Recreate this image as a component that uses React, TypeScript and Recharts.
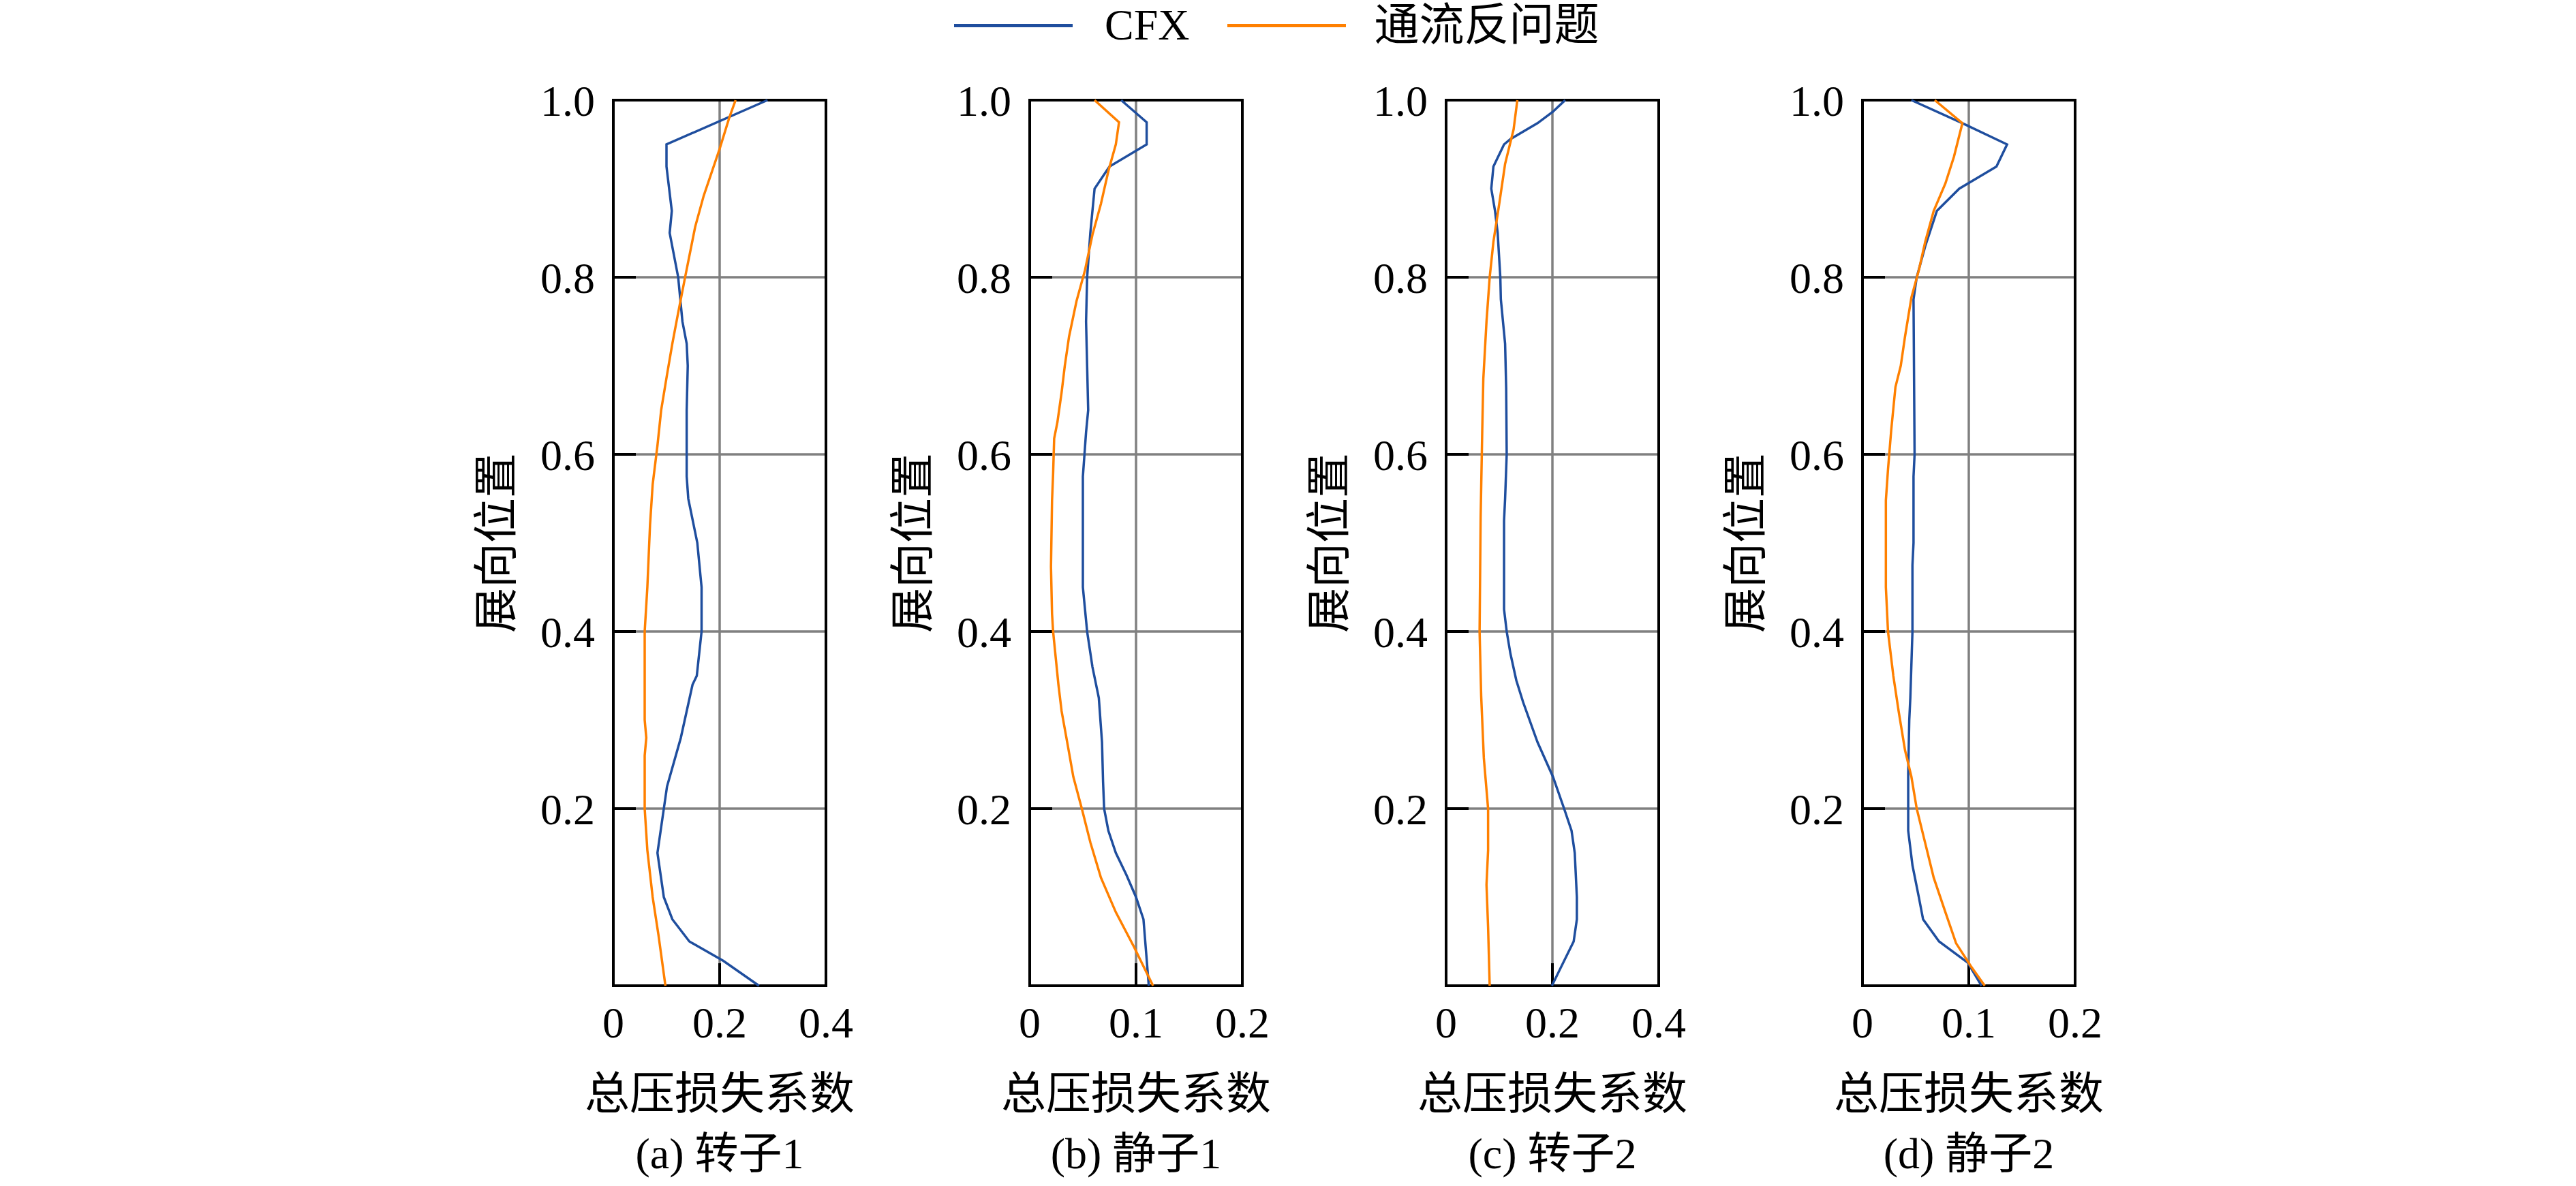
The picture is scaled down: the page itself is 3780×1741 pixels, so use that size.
import React from 'react';
import { ScatterChart, Scatter, XAxis, YAxis, CartesianGrid, ReferenceArea } from 'recharts';

// [span position, total pressure loss coefficient]
const rotor1Cfx: [number, number][] = [
  [1.0, 0.29], [0.95, 0.1], [0.925, 0.1], [0.875, 0.11], [0.85, 0.106], [0.8, 0.122],
  [0.75, 0.13], [0.725, 0.138], [0.7, 0.14], [0.65, 0.138], [0.575, 0.138], [0.55, 0.141],
  [0.5, 0.158], [0.45, 0.166], [0.4, 0.166], [0.35, 0.157], [0.34, 0.149], [0.28, 0.127],
  [0.225, 0.101], [0.15, 0.083], [0.1, 0.095], [0.075, 0.111], [0.05, 0.143], [0.028, 0.207],
  [0, 0.274],
];
const rotor1Inverse: [number, number][] = [
  [1.0, 0.23], [0.98, 0.218], [0.945, 0.2], [0.892, 0.17], [0.857, 0.154], [0.8, 0.135],
  [0.76, 0.122], [0.725, 0.111], [0.69, 0.101], [0.65, 0.09], [0.61, 0.083], [0.566, 0.074],
  [0.52, 0.069], [0.45, 0.064], [0.4, 0.059], [0.3, 0.059], [0.28, 0.062], [0.26, 0.059],
  [0.2, 0.059], [0.153, 0.064], [0.1, 0.074], [0.057, 0.085], [0, 0.098],
];
const stator1Cfx: [number, number][] = [
  [1.0, 0.086], [0.975, 0.11], [0.95, 0.11], [0.925, 0.075], [0.9, 0.061], [0.85, 0.057],
  [0.8, 0.054], [0.75, 0.053], [0.7, 0.054], [0.65, 0.055], [0.625, 0.053], [0.575, 0.05],
  [0.5, 0.05], [0.45, 0.05], [0.425, 0.052], [0.4, 0.054], [0.36, 0.059], [0.325, 0.065],
  [0.275, 0.068], [0.23, 0.069], [0.2, 0.07], [0.175, 0.074], [0.15, 0.081], [0.125, 0.091],
  [0.1, 0.1], [0.075, 0.107], [0, 0.112],
];
const stator1Inverse: [number, number][] = [
  [1.0, 0.061], [0.975, 0.084], [0.95, 0.081], [0.92, 0.074], [0.883, 0.067], [0.848, 0.059],
  [0.808, 0.052], [0.773, 0.044], [0.733, 0.037], [0.7, 0.033], [0.67, 0.03], [0.636, 0.026],
  [0.618, 0.023], [0.578, 0.022], [0.548, 0.021], [0.473, 0.02], [0.42, 0.021], [0.4, 0.022],
  [0.34, 0.027], [0.31, 0.03], [0.27, 0.036], [0.236, 0.041], [0.2, 0.049], [0.162, 0.057],
  [0.122, 0.067], [0.083, 0.081], [0.044, 0.098], [0.022, 0.107], [0, 0.116],
];
const rotor2Cfx: [number, number][] = [
  [1.0, 0.224], [0.987, 0.201], [0.974, 0.172], [0.956, 0.121], [0.95, 0.109], [0.925, 0.089],
  [0.9, 0.085], [0.875, 0.092], [0.85, 0.097], [0.8, 0.102], [0.775, 0.103], [0.725, 0.111],
  [0.675, 0.113], [0.6, 0.114], [0.55, 0.111], [0.525, 0.109], [0.425, 0.109], [0.4, 0.114],
  [0.375, 0.121], [0.345, 0.132], [0.32, 0.145], [0.275, 0.172], [0.236, 0.201], [0.2, 0.222],
  [0.175, 0.236], [0.15, 0.242], [0.1, 0.246], [0.075, 0.246], [0.05, 0.24], [0, 0.199],
];
const rotor2Inverse: [number, number][] = [
  [1.0, 0.134], [0.967, 0.127], [0.928, 0.111], [0.883, 0.1], [0.84, 0.089], [0.8, 0.082],
  [0.75, 0.076], [0.685, 0.07], [0.627, 0.068], [0.53, 0.065], [0.4, 0.063], [0.327, 0.066],
  [0.257, 0.071], [0.2, 0.079], [0.153, 0.079], [0.114, 0.076], [0.066, 0.079], [0, 0.082],
];
const stator2Cfx: [number, number][] = [
  [1.0, 0.046], [0.974, 0.094], [0.95, 0.136], [0.925, 0.126], [0.9, 0.091], [0.875, 0.07],
  [0.835, 0.059], [0.8, 0.051], [0.775, 0.048], [0.6, 0.049], [0.575, 0.048], [0.5, 0.048],
  [0.475, 0.047], [0.4, 0.047], [0.325, 0.045], [0.3, 0.044], [0.24, 0.043], [0.175, 0.043],
  [0.136, 0.047], [0.1, 0.053], [0.075, 0.057], [0.05, 0.072], [0.026, 0.099], [0, 0.112],
];
const stator2Inverse: [number, number][] = [
  [1.0, 0.068], [0.974, 0.094], [0.936, 0.086], [0.906, 0.078], [0.875, 0.067], [0.84, 0.059],
  [0.808, 0.053], [0.777, 0.046], [0.733, 0.04], [0.7, 0.036], [0.676, 0.031], [0.627, 0.027],
  [0.583, 0.024], [0.548, 0.022], [0.45, 0.022], [0.4, 0.024], [0.35, 0.029], [0.31, 0.034],
  [0.266, 0.04], [0.236, 0.046], [0.2, 0.051], [0.161, 0.059], [0.122, 0.067], [0.083, 0.078],
  [0.048, 0.088], [0.022, 0.102], [0, 0.115],
];

const rotorTicks = [0, 0.2, 0.4];
const statorTicks = [0, 0.1, 0.2];
const spanTicks = [0.2, 0.4, 0.6, 0.8, 1.0];

const seriesNames = ['CFX', '通流反问题'];
const xTitle = '总压损失系数';
const yTitle = '展向位置';

const BLUE = '#1F4E9E';
const ORANGE = '#FF8000';
const FONT = "'Liberation Serif', 'Noto Sans CJK SC', serif";

type Pt = { span: number; loss: number };
const toPoints = (rows: [number, number][]): Pt[] => rows.map(([span, loss]) => ({ span, loss }));

const panels = [
  { caption: '(a) 转子1', cfx: rotor1Cfx, inverse: rotor1Inverse, ticks: rotorTicks, left: 900 },
  { caption: '(b) 静子1', cfx: stator1Cfx, inverse: stator1Inverse, ticks: statorTicks, left: 1511 },
  { caption: '(c) 转子2', cfx: rotor2Cfx, inverse: rotor2Inverse, ticks: rotorTicks, left: 2122 },
  { caption: '(d) 静子2', cfx: stator2Cfx, inverse: stator2Inverse, ticks: statorTicks, left: 2733 },
];

const AXIS_W = 240;
const PLOT_W = 312;
const RIGHT = 90;
const TOP = 147;
const PLOT_H = 1300;
const HEIGHT = 1741;

const noDot = () => <g />;

function Panel({ caption, cfx, inverse, ticks, left }: (typeof panels)[number]) {
  const xMax = ticks[ticks.length - 1];

  const xLabel = (props: any) => {
    const vb = props.viewBox;
    const cx = vb.x + vb.width / 2;
    return (
      <g>
        <text x={cx} y={vb.y + 181} textAnchor="middle" fontSize={66} fontFamily={FONT} fill="#000">
          {xTitle}
        </text>
        <text x={cx} y={vb.y + 268} textAnchor="middle" fontSize={64} fontFamily={FONT} fill="#000">
          {caption}
        </text>
      </g>
    );
  };

  const yLabel = (props: any) => {
    const vb = props.viewBox;
    const cx = vb.x + 68;
    const cy = vb.y + vb.height / 2;
    return (
      <text
        x={cx}
        y={cy}
        textAnchor="middle"
        dominantBaseline="central"
        transform={`rotate(-90, ${cx}, ${cy})`}
        fontSize={66}
        fontFamily={FONT}
        fill="#000"
      >
        {yTitle}
      </text>
    );
  };

  return (
    <div style={{ position: 'absolute', left: left - AXIS_W, top: 0 }}>
      <ScatterChart
        width={AXIS_W + PLOT_W + RIGHT}
        height={HEIGHT}
        margin={{ top: TOP, right: RIGHT, bottom: 0, left: 0 }}
      >
        <CartesianGrid stroke="#808080" strokeWidth={3.5} />
        <XAxis
          type="number"
          dataKey="loss"
          domain={[0, xMax]}
          ticks={ticks}
          interval={0}
          height={HEIGHT - TOP - PLOT_H}
          tickFormatter={(v: number) => String(v)}
          tick={{ fontSize: 64, fontFamily: FONT, fill: '#000' }}
          tickSize={-33}
          tickMargin={64}
          tickLine={{ stroke: '#000', strokeWidth: 4 }}
          axisLine={{ stroke: '#000', strokeWidth: 4 }}
          label={xLabel}
        />
        <YAxis
          type="number"
          dataKey="span"
          domain={[0, 1]}
          ticks={spanTicks}
          interval={0}
          width={AXIS_W}
          tickFormatter={(v: number) => v.toFixed(1)}
          tick={{ fontSize: 64, fontFamily: FONT, fill: '#000' }}
          tickSize={-33}
          tickMargin={60}
          tickLine={{ stroke: '#000', strokeWidth: 4 }}
          axisLine={{ stroke: '#000', strokeWidth: 4 }}
          label={yLabel}
        />
        <Scatter
          name={seriesNames[0]}
          data={toPoints(cfx)}
          line={{ stroke: BLUE, strokeWidth: 3.5 }}
          lineType="joint"
          shape={noDot}
          isAnimationActive={false}
        />
        <Scatter
          name={seriesNames[1]}
          data={toPoints(inverse)}
          line={{ stroke: ORANGE, strokeWidth: 3.5 }}
          lineType="joint"
          shape={noDot}
          isAnimationActive={false}
        />
        <ReferenceArea x1={0} x2={xMax} y1={0} y2={1} fill="none" stroke="#000" strokeWidth={4} />
      </ScatterChart>
    </div>
  );
}

function LegendBar() {
  const text = { fontFamily: FONT, color: '#000', lineHeight: 1 };
  return (
    <div style={{ position: 'absolute', left: 1400, top: 0, height: 74, display: 'flex', alignItems: 'center' }}>
      <div style={{ width: 174, height: 5, background: BLUE }} />
      <span style={{ ...text, fontSize: 64, marginLeft: 47 }}>{seriesNames[0]}</span>
      <div style={{ width: 174, height: 5, background: ORANGE, marginLeft: 55 }} />
      <span style={{ ...text, fontSize: 66, marginLeft: 42 }}>{seriesNames[1]}</span>
    </div>
  );
}

export default function App() {
  return (
    <div style={{ position: 'absolute', left: 0, top: 0, width: 3780, height: HEIGHT, background: '#fff', overflow: 'hidden' }}>
      <LegendBar />
      {panels.map((p) => (
        <Panel key={p.caption} {...p} />
      ))}
    </div>
  );
}
